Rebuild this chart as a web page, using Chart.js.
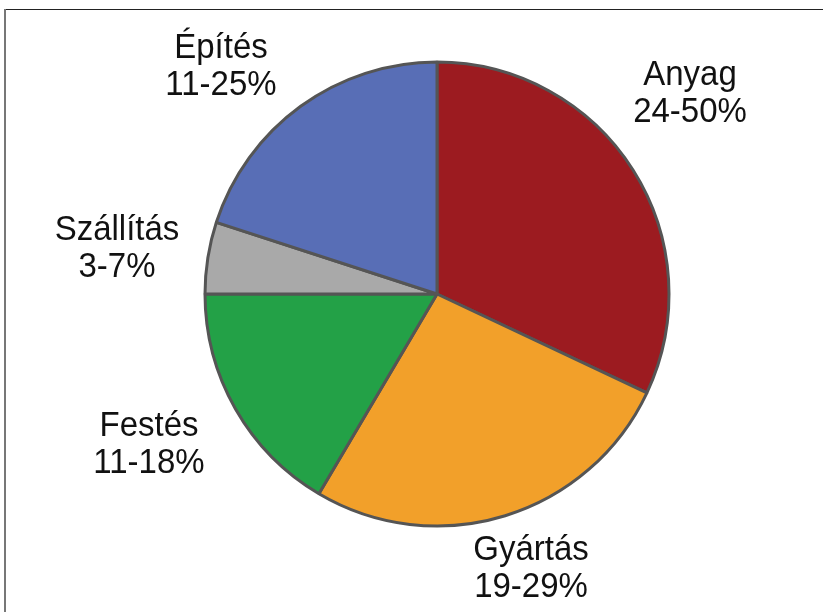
<!DOCTYPE html>
<html>
<head>
<meta charset="utf-8">
<script src="https://cdn.jsdelivr.net/npm/chart.js@4"></script>
<style>
  html, body { margin: 0; padding: 0; background: #ffffff; }
  #wrap { position: relative; width: 823px; height: 612px; overflow: hidden; }
  #frameTop { position: absolute; left: 4px; top: 9px; width: 819px; height: 0; border-top: 1.5px solid #222; }
  #frameLeft { position: absolute; left: 4px; top: 9px; width: 0; height: 603px; border-left: 2px solid #777; }
  canvas { position: absolute; left: 0; top: 0; }
</style>
</head>
<body>
<div id="wrap">
  <canvas id="c" width="823" height="612"></canvas>
  <div id="frameTop"></div>
  <div id="frameLeft"></div>
</div>
<script>
// Data (share of pie, percent), clockwise from 12 o'clock
const categories = ["Anyag", "Gyártás", "Festés", "Szállítás", "Építés"];
const shares = [32, 26.5, 16.5, 5, 20];
const rangeLabels = ["24-50%", "19-29%", "11-18%", "3-7%", "11-25%"];
const colors = ["#9c1b20", "#f2a02a", "#23a147", "#a9a9a9", "#586eb6"];

// Label placement (center x, baseline of first line), separate from data
const labelPlacement = {
  "Anyag":     { x: 690, y: 85 },
  "Gyártás":   { x: 531, y: 560 },
  "Festés":    { x: 149, y: 436 },
  "Szállítás": { x: 117, y: 240 },
  "Építés":    { x: 221, y: 58 }
};

const labelPlugin = {
  id: 'sliceLabels',
  afterDraw(chart) {
    const ctx = chart.ctx;
    ctx.save();
    ctx.fillStyle = '#111';
    ctx.font = '33px "Liberation Sans", Arial, sans-serif';
    ctx.textAlign = 'center';
    ctx.textBaseline = 'alphabetic';
    chart.data.labels.forEach((name, i) => {
      const p = labelPlacement[name];
      if (!p) return;
      const lines = [name, rangeLabels[i]];
      lines.forEach((t, k) => {
        ctx.save();
        ctx.translate(p.x, p.y + k * 37);
        ctx.scale(1, 1.06);
        ctx.fillText(t, 0, 0);
        ctx.restore();
      });
    });
    ctx.restore();
  }
};

new Chart(document.getElementById('c'), {
  type: 'pie',
  data: {
    labels: categories,
    datasets: [{
      data: shares,
      backgroundColor: colors,
      borderColor: '#555555',
      borderWidth: 3,
      radius: 232
    }]
  },
  options: {
    responsive: false,
    animation: false,
    layout: { padding: { left: 51, right: 0, top: 0, bottom: 24 } },
    plugins: {
      legend: { display: false },
      tooltip: { enabled: false }
    }
  },
  plugins: [labelPlugin]
});
</script>
</body>
</html>
